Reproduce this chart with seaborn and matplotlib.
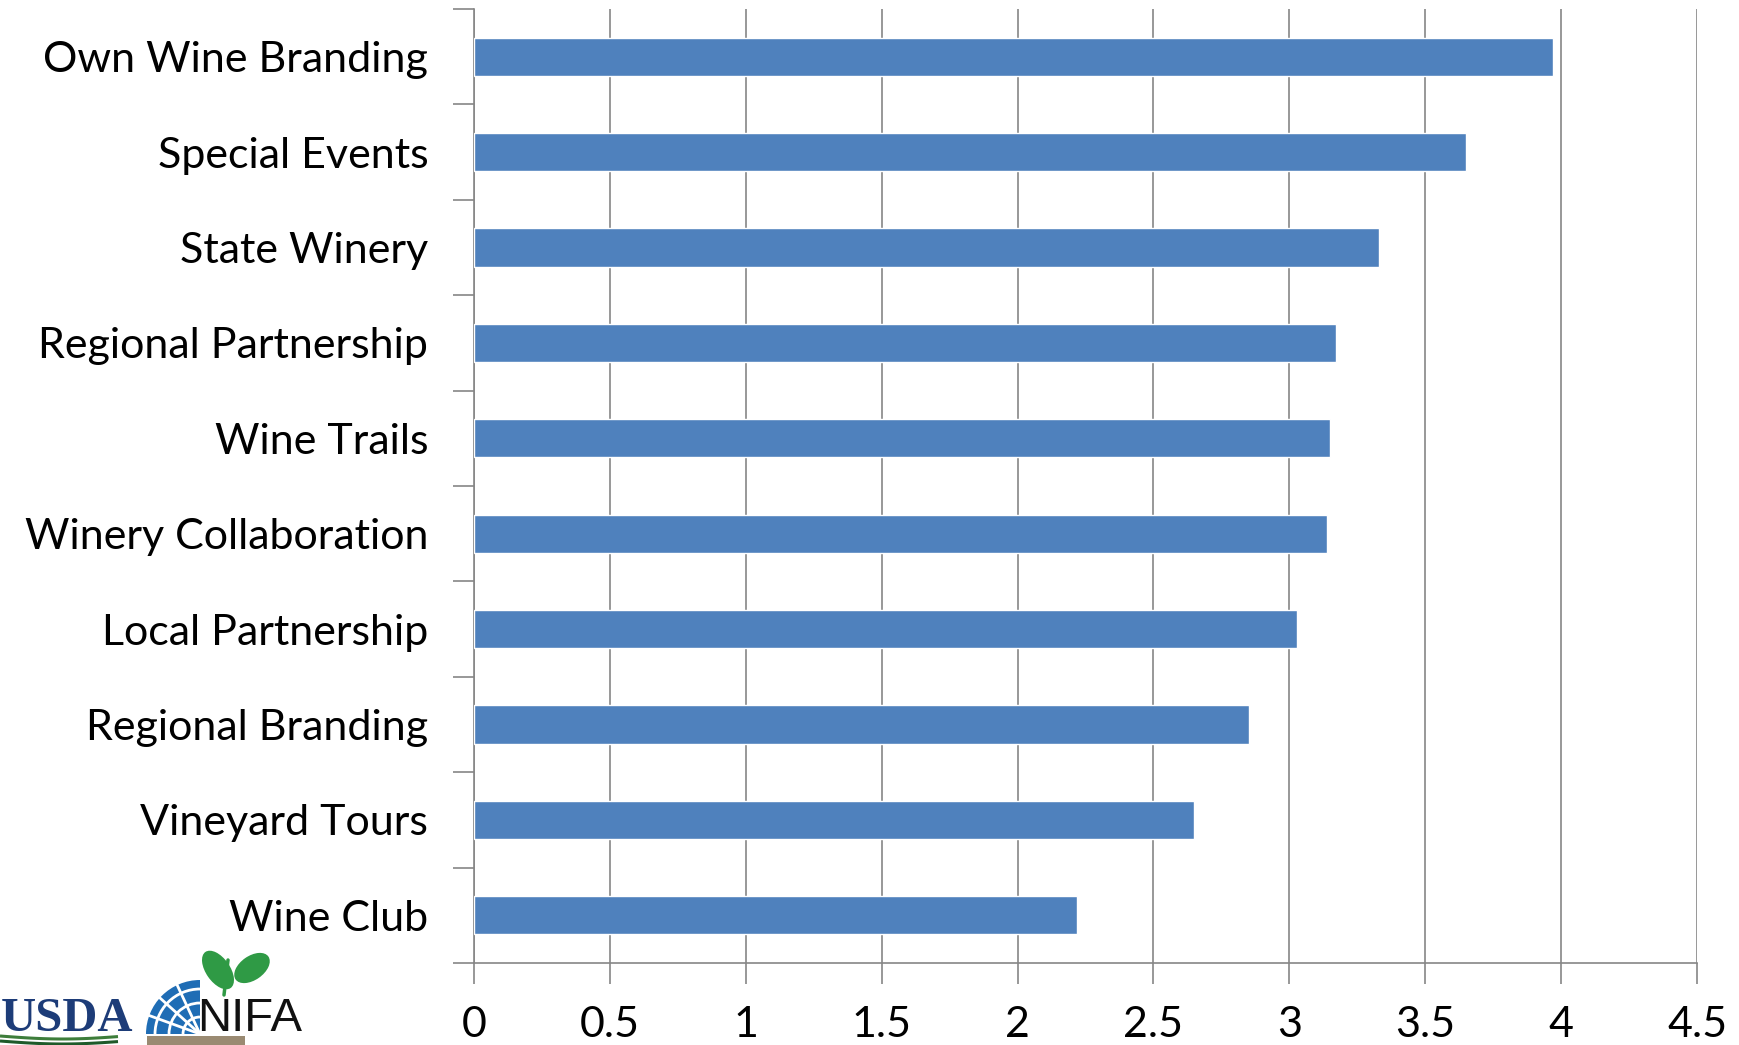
import matplotlib
matplotlib.use("Agg")
import matplotlib.pyplot as plt
import matplotlib.patches as mpatches
import numpy as np
import pandas as pd
import seaborn as sns

# Average rating of each marketing strategy
categories = [
    "Own Wine Branding",
    "Special Events",
    "State Winery",
    "Regional Partnership",
    "Wine Trails",
    "Winery Collaboration",
    "Local Partnership",
    "Regional Branding",
    "Vineyard Tours",
    "Wine Club",
]
scores = [3.97, 3.65, 3.33, 3.17, 3.15, 3.14, 3.03, 2.85, 2.65, 2.22]
x_ticks = [0, 0.5, 1, 1.5, 2, 2.5, 3, 3.5, 4, 4.5]
x_tick_labels = ["0", "0.5", "1", "1.5", "2", "2.5", "3", "3.5", "4", "4.5"]

BAR_COLOR = "#4F81BD"
AXIS_GRAY = "#868686"

sns.set_theme(style="white")
plt.rcParams["font.family"] = ["Lato", "DejaVu Sans"]

df = pd.DataFrame({"strategy": categories, "score": scores})

fig = plt.figure(figsize=(17.4, 10.45), dpi=100)
ax = fig.add_axes([0.2724, 0.0785, 0.9753 - 0.2724, 0.9914 - 0.0785])

sns.barplot(data=df, x="score", y="strategy", order=categories, color=BAR_COLOR,
            saturation=1, width=0.4, orient="h", ax=ax, zorder=3)

ax.set_xlim(0, 4.5)
ax.set_ylim(len(categories) - 0.5, -0.5)
ax.set_xlabel("")
ax.set_ylabel("")

ax.set_xticks(x_ticks)
ax.set_xticklabels(x_tick_labels)
ax.xaxis.grid(True, color=AXIS_GRAY, linewidth=1.2, zorder=0)
ax.yaxis.grid(False)
ax.set_axisbelow(True)

# category separators drawn as outward minor ticks on the y axis
ax.set_yticks(np.arange(-0.5, len(categories) + 0.5, 1.0), minor=True)
ax.tick_params(axis="y", which="major", length=0, pad=33, labelsize=31, labelcolor="black")
ax.tick_params(axis="y", which="minor", length=15, width=1.2, color=AXIS_GRAY, direction="out", left=True)
ax.tick_params(axis="x", which="major", length=15, width=1.2, color=AXIS_GRAY, direction="out",
               bottom=True, pad=16, labelsize=31, labelcolor="black")

for side in ("top", "right"):
    ax.spines[side].set_visible(False)
for side in ("left", "bottom"):
    ax.spines[side].set_color(AXIS_GRAY)
    ax.spines[side].set_linewidth(1.2)

# Agency logos in the lower-left corner, laid out in pixel coordinates
lx = fig.add_axes([0, 0, 1, 1], zorder=5)
lx.set_xlim(0, 1740)
lx.set_ylim(1045, 0)
lx.axis("off")

# USDA wordmark with green field lines
lx.text(1, 1031, "USDA", fontsize=35, family="Liberation Serif", color="#1d3c78",
        ha="left", va="baseline", fontweight="bold", fontstretch="condensed")
for dy, col in ((1036, "#3d7d3a"), (1041, "#1f5a2a")):
    t = np.linspace(0, 118, 40)
    lx.plot(t, dy + 3 * np.sin(t / 40.0), color=col, linewidth=2.2, solid_capstyle="butt")

# NIFA globe, leaves, soil and wordmark
globe = mpatches.Wedge((200, 1034), 54, 180, 270, facecolor="#1f6db5", edgecolor="none")
lx.add_patch(globe)
for r in (14, 28, 42):
    lx.add_patch(mpatches.Arc((200, 1034), 2 * r + 6, 2 * r + 6, theta1=180, theta2=270,
                              color="white", linewidth=2.0))
for ang in (200, 222, 245):
    a = np.deg2rad(ang)
    lx.plot([200, 200 + 60 * np.cos(a)], [1034, 1034 + 60 * np.sin(a)], color="white", linewidth=2.0)
lx.add_patch(mpatches.Rectangle((147, 1036), 98, 12, facecolor="#9a8a72", edgecolor="none"))
lx.add_patch(mpatches.Ellipse((218, 970), 24, 44, angle=-35, facecolor="#2f9a45", edgecolor="none"))
lx.add_patch(mpatches.Ellipse((252, 968), 24, 40, angle=55, facecolor="#2f9a45", edgecolor="none"))
lx.plot([224, 228], [995, 960], color="#2f9a45", linewidth=2.5)
lx.text(197, 1031, "NIFA", fontsize=34, family="Liberation Sans", color="#111111",
        ha="left", va="baseline", fontstretch="condensed")

fig.savefig("out.png", dpi=100, facecolor="white")
